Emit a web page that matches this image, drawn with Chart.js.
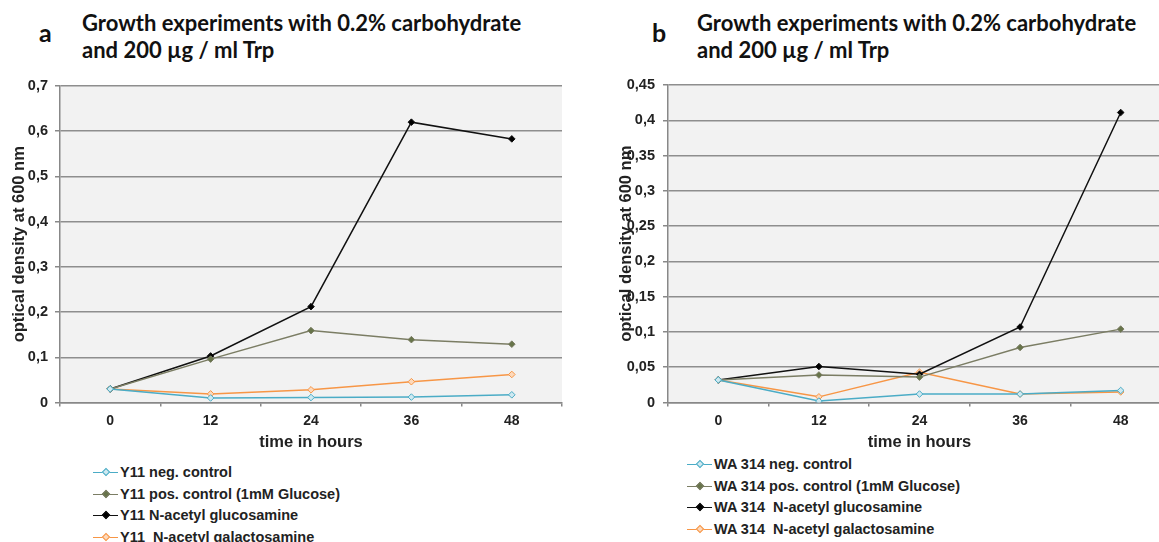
<!DOCTYPE html>
<html>
<head>
<meta charset="utf-8">
<script src="https://cdn.jsdelivr.net/npm/chart.js@4.4.0/dist/chart.umd.min.js"></script>
<style>
  body { margin: 0; width: 1159px; height: 542px; overflow: hidden; background: #fff; position: relative;
         font-family: "Liberation Sans", Arial, sans-serif; }
  .letter { position: absolute; top: 17px; font: bold 25px Lato, "Open Sans", sans-serif; color: #111; }
  .title { position: absolute; top: 9px; font: bold 22px/27px Lato, "Open Sans", sans-serif; color: #111; }
  .box { position: absolute; top: 60px; }
  .legend { position: absolute; font: bold 14.5px "Liberation Sans", Arial, sans-serif; color: #222; }
  .legend div { height: 21.6px; line-height: 21.6px; white-space: pre; display: flex; align-items: center; }
  .sample { position: relative; display: inline-block; width: 25px; height: 0; border-top: 1.5px solid; margin-right: 2px; }
  .sample i { position: absolute; left: 10px; top: -4px; width: 4px; height: 4px; transform: rotate(45deg); border: 1px solid; }
</style>
</head>
<body>

<div class="letter" style="left:39px">a</div>
<div class="title" style="left:82px">Growth experiments with 0.2% carbohydrate<br>and 200 µg / ml Trp</div>
<div class="letter" style="left:652px">b</div>
<div class="title" style="left:697px">Growth experiments with 0.2% carbohydrate<br>and 200 µg / ml Trp</div>

<div class="box" style="left:0px;width:580px;height:392px"><canvas id="chartA"></canvas></div>
<div class="box" style="left:600px;width:600px;height:392px"><canvas id="chartB"></canvas></div>

<div class="legend" id="legendA" style="left:93px;top:462px"></div>
<div class="legend" id="legendB" style="left:687px;top:454px"></div>

<script>
// categories (hours)
const hours = ['0', '12', '24', '36', '48'];

// panel a : Y11
const namesA = ['Y11 neg. control', 'Y11 pos. control (1mM Glucose)', 'Y11 N-acetyl glucosamine', 'Y11  N-acetyl galactosamine'];
const negA = [0.030, 0.010, 0.011, 0.012, 0.017];
const posA = [0.030, 0.096, 0.159, 0.139, 0.129];
const glcA = [0.030, 0.103, 0.212, 0.620, 0.583];
const galA = [0.030, 0.019, 0.028, 0.046, 0.062];

// panel b : WA 314
const namesB = ['WA 314 neg. control', 'WA 314 pos. control (1mM Glucose)', 'WA 314  N-acetyl glucosamine', 'WA 314  N-acetyl galactosamine'];
const negB = [0.032, 0.002, 0.012, 0.012, 0.017];
const posB = [0.032, 0.039, 0.036, 0.078, 0.104];
const glcB = [0.032, 0.051, 0.040, 0.107, 0.411];
const galB = [0.032, 0.008, 0.043, 0.012, 0.015];

// line colour, marker fill
const lineColors = ['#4bacc6', '#7b7d64', '#111111', '#f79646'];
const markerFills = ['#cfe9f1', '#67744a', '#000000', '#fdd9bb'];

// gray plot background
const plotBg = {
  id: 'plotBg',
  beforeDraw(chart) {
    const { ctx, chartArea: a } = chart;
    ctx.save();
    ctx.fillStyle = '#f2f2f2';
    ctx.fillRect(a.left, a.top, a.right - a.left, a.bottom - a.top);
    ctx.restore();
  }
};

function comma(v) {
  return String(+v.toFixed(2)).replace('.', ',');
}

function makeChart(id, names, series, yMax, step, pad, yWidth) {
  const datasets = series.map((vals, i) => ({
    label: names[i],
    data: vals,
    borderColor: lineColors[i],
    backgroundColor: markerFills[i],
    pointBorderColor: lineColors[i],
    pointBackgroundColor: markerFills[i],
    borderWidth: 1.5,
    pointStyle: 'rectRot',
    pointRadius: 3.3,
    pointBorderWidth: 1,
    tension: 0
  }));
  return new Chart(document.getElementById(id), {
    type: 'line',
    data: { labels: hours, datasets: datasets },
    plugins: [plotBg],
    options: {
      responsive: true,
      maintainAspectRatio: false,
      animation: false,
      layout: { padding: pad },
      plugins: { legend: { display: false }, tooltip: { enabled: false } },
      scales: {
        x: {
          offset: true,
          grid: { offset: true, drawOnChartArea: false, tickLength: 4, color: '#888', lineWidth: 1.5 },
          border: { color: '#888', width: 1.5 },
          ticks: { color: '#222', font: { family: 'Liberation Sans', weight: 'bold', size: 14 }, padding: 6 },
          title: { display: true, text: 'time in hours', color: '#222', padding: 0,
                   font: { family: 'Liberation Sans', weight: 'bold', size: 16.5 } },
          afterFit: s => { s.height = 49.5; }
        },
        y: {
          min: 0, max: yMax,
          grid: { color: '#8e8e8e', lineWidth: 1.5, tickLength: 5, tickColor: '#888' },
          border: { color: '#888', width: 1.5 },
          ticks: { stepSize: step, color: '#222', padding: pad.tickPad,
                   font: { family: 'Liberation Sans', weight: 'bold', size: 14.5 },
                   callback: v => comma(v) },
          title: { display: true, text: 'optical density at 600 nm', color: '#222', padding: { top: 2, bottom: 0 },
                   font: { family: 'Liberation Sans', weight: 'bold', size: 16.5 } },
          afterFit: s => { s.width = yWidth; }
        }
      }
    }
  });
}

makeChart('chartA', namesA, [negA, posA, glcA, galA], 0.7, 0.1,
  { top: 26, left: 8, right: 18, bottom: 0, tickPad: 7 }, 52);
makeChart('chartB', namesB, [negB, posB, glcB, galB], 0.45, 0.05,
  { top: 25, left: 15, right: 29, bottom: 0, tickPad: 8 }, 53);

// legends (vertical list under each chart)
function buildLegend(boxId, names) {
  const box = document.getElementById(boxId);
  names.forEach((n, i) => {
    const row = document.createElement('div');
    const s = document.createElement('span');
    s.className = 'sample';
    s.style.borderColor = lineColors[i];
    const d = document.createElement('i');
    d.style.borderColor = lineColors[i];
    d.style.background = markerFills[i];
    s.appendChild(d);
    row.appendChild(s);
    row.appendChild(document.createTextNode(n));
    box.appendChild(row);
  });
}
buildLegend('legendA', namesA);
buildLegend('legendB', namesB);
</script>
</body>
</html>
